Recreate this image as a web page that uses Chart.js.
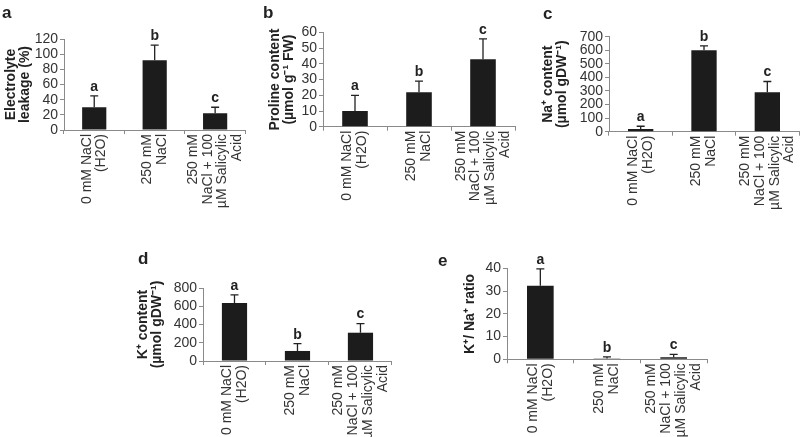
<!DOCTYPE html>
<html lang="en">
<head>
<meta charset="UTF-8">
<title>NaCl / salicylic acid panels</title>
<style>
  body { margin: 0; background: #fff; }
  #wrap { position: relative; width: 800px; height: 437px; overflow: hidden; }
  #wrap canvas { position: absolute; }
</style>
</head>
<body>
<div id="wrap">
  <canvas id="chartA"></canvas>
  <canvas id="chartB"></canvas>
  <canvas id="chartC"></canvas>
  <canvas id="chartD"></canvas>
  <canvas id="chartE"></canvas>
</div>
<script src="https://cdn.jsdelivr.net/npm/chart.js"></script>
<script>
// treatments (a leading empty line keeps the 2-line labels centred, see labelOffset)
const categories = [
  ['', '0 mM NaCl', '(H2O)'],
  ['', '250 mM', 'NaCl'],
  ['250 mM', 'NaCl + 100', 'µM Salicylic', 'Acid']
];
const letters = ['a', 'b', 'c'];

const leakage = [30, 92, 22];
const leakageErr = [15, 20, 8];
const proline = [10, 22, 43];
const prolineErr = [10, 7, 13];
const sodium = [20, 600, 290];
const sodiumErr = [20, 32, 80];
const potassium = [635, 110, 310];
const potassiumErr = [90, 80, 100];
const ratio = [32.4, 0.3, 0.9];
const ratioErr = [7.4, 0.8, 1.3];

const FONT = '"Liberation Sans", Arial, sans-serif';
const TEXT = '#333';
const AXIS = '#8a8a8a';
const LH = 14.8;

function makePanel(id, box, values, errors, yMax, yStep, yTitle, titlePad, panelLetter) {
  const canvas = document.getElementById(id);
  canvas.width = box.w;
  canvas.height = box.h;
  canvas.style.left = box.x + 'px';
  canvas.style.top = box.y + 'px';
  const yWidth = box.plotLeft - box.x;
  const xHeight = box.y + box.h - box.plotBottom;

  const extras = {
    id: 'extras',
    afterDatasetsDraw(chart) {
      const ctx = chart.ctx;
      const y = chart.scales.y;
      const meta = chart.getDatasetMeta(0);
      ctx.save();
      meta.data.forEach((bar, i) => {
        const top = y.getPixelForValue(values[i] + errors[i]);
        ctx.strokeStyle = '#222';
        ctx.lineWidth = 1.3;
        ctx.beginPath();
        ctx.moveTo(bar.x, bar.y);
        ctx.lineTo(bar.x, top);
        ctx.moveTo(bar.x - 4, top);
        ctx.lineTo(bar.x + 4, top);
        ctx.stroke();
        ctx.fillStyle = '#222';
        ctx.font = 'bold 14px ' + FONT;
        ctx.textAlign = 'center';
        ctx.textBaseline = 'bottom';
        ctx.fillText(letters[i], bar.x, top - 2);
      });
      ctx.font = 'bold 17px ' + FONT;
      ctx.textAlign = 'left';
      ctx.textBaseline = 'alphabetic';
      ctx.fillText(panelLetter, box.letterX - box.x, box.letterY - box.y);
      ctx.restore();
    }
  };

  return new Chart(canvas, {
    type: 'bar',
    data: {
      labels: categories,
      datasets: [{
        data: values,
        backgroundColor: '#1c1c1c',
        borderWidth: 0,
        barPercentage: 0.4,
        categoryPercentage: 1
      }]
    },
    options: {
      responsive: false,
      animation: false,
      devicePixelRatio: 1,
      layout: {
        padding: {
          left: 0,
          top: box.plotTop - box.y,
          right: box.x + box.w - box.plotRight,
          bottom: 0
        }
      },
      plugins: { legend: { display: false }, tooltip: { enabled: false } },
      scales: {
        x: {
          offset: true,
          grid: { offset: true, drawOnChartArea: false, tickLength: 4, color: AXIS },
          border: { color: AXIS },
          ticks: {
            minRotation: 90, maxRotation: 90, autoSkip: false, padding: 0,
            labelOffset: -1.5 * LH,
            color: TEXT,
            font: { family: FONT, size: 14, lineHeight: LH / 14 }
          },
          afterFit: s => { s.height = xHeight; }
        },
        y: {
          min: 0,
          max: yMax,
          grid: { drawOnChartArea: false, tickLength: 4, color: AXIS },
          border: { color: AXIS },
          ticks: { stepSize: yStep, autoSkip: false, padding: 2, color: TEXT, font: { family: FONT, size: 14 } },
          title: {
            display: true,
            text: yTitle,
            color: '#222',
            font: { family: FONT, size: 14, weight: 'bold', lineHeight: 1.0 },
            padding: { top: titlePad, bottom: 0 }
          },
          afterFit: s => { s.width = yWidth; }
        }
      }
    },
    plugins: [extras]
  });
}

makePanel('chartA',
  { x: 0, y: 0, w: 280, h: 225, plotLeft: 64, plotRight: 246, plotTop: 39, plotBottom: 130, letterX: 2, letterY: 18 },
  leakage, leakageErr, 120, 20, ['Electrolyte', 'leakage (%)'], 4, 'a');

makePanel('chartB',
  { x: 258, y: 0, w: 290, h: 225, plotLeft: 323, plotRight: 515, plotTop: 32.5, plotBottom: 126.7, letterX: 263, letterY: 18 },
  proline, prolineErr, 60, 10, ['Proline content', '(µmol g⁻¹ FW)'], 10, 'b');

makePanel('chartC',
  { x: 528, y: 0, w: 305, h: 225, plotLeft: 609, plotRight: 799, plotTop: 36.7, plotBottom: 131.7, letterX: 543, letterY: 19 },
  sodium, sodiumErr, 700, 100, ['Na⁺ content', '(µmol gDW⁻¹)'], 13, 'c');

makePanel('chartD',
  { x: 125, y: 230, w: 300, h: 207, plotLeft: 203, plotRight: 393, plotTop: 288, plotBottom: 361, letterX: 138, letterY: 264 },
  potassium, potassiumErr, 800, 200, ['K⁺ content', '(µmol gDW⁻¹)'], 11, 'd');

makePanel('chartE',
  { x: 425, y: 230, w: 320, h: 207, plotLeft: 507, plotRight: 707, plotTop: 268.5, plotBottom: 359.3, letterX: 438, letterY: 266 },
  ratio, ratioErr, 40, 10, 'K⁺/ Na⁺ ratio', 38, 'e');
</script>
</body>
</html>
